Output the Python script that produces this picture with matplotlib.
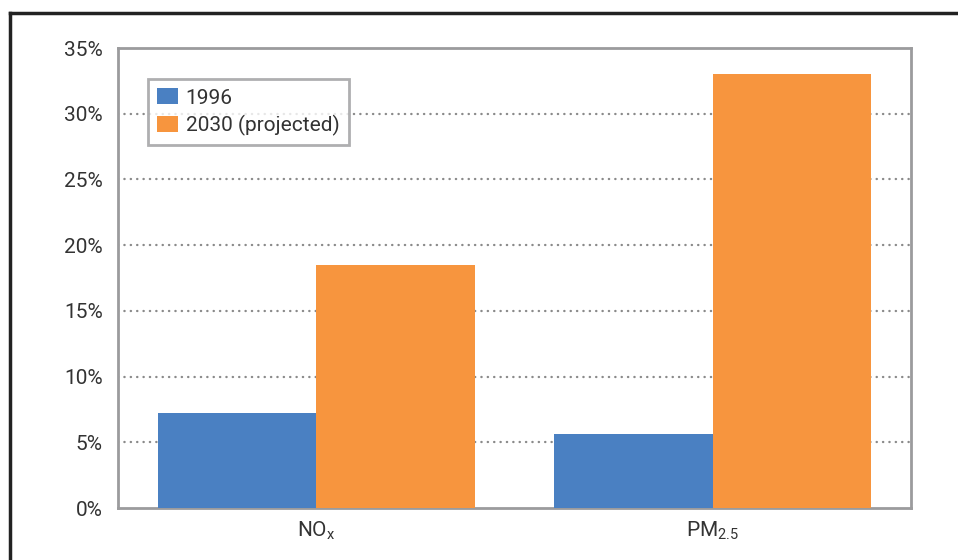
import matplotlib
matplotlib.use('Agg')
import matplotlib.pyplot as plt
from matplotlib.lines import Line2D
import numpy as np

plt.rcParams['font.family'] = ['Roboto', 'DejaVu Sans']
plt.rcParams['mathtext.fontset'] = 'custom'
plt.rcParams['mathtext.rm'] = 'Roboto'

# Data
categories = [r'NO$_{\mathrm{x}}$', r'PM$_{\mathrm{2.5}}$']
values_1996 = [7.2, 5.6]
values_2030 = [18.5, 33.0]
y_ticks = [0, 5, 10, 15, 20, 25, 30, 35]
y_labels = ['0%', '5%', '10%', '15%', '20%', '25%', '30%', '35%']

blue = '#4a80c2'
orange = '#f7953e'
spine_col = '#9b9b9d'

fig = plt.figure(figsize=(9.58, 5.6), dpi=100)
ax = fig.add_axes([118 / 958, 1 - 508 / 560, (911 - 118) / 958, (508 - 48) / 560])

x = np.arange(len(categories))
w = 0.4
ax.bar(x - w / 2, values_1996, width=w, color=blue, label='1996', zorder=3)
ax.bar(x + w / 2, values_2030, width=w, color=orange, label='2030 (projected)', zorder=3)

ax.set_xlim(-0.5, 1.5)
ax.set_ylim(0, 35)
ax.set_yticks(y_ticks)
ax.set_yticklabels(y_labels)
ax.set_xticks(x)
ax.set_xticklabels(categories)
ax.tick_params(axis='both', length=0, labelsize=15, colors='#333333')
ax.tick_params(axis='y', pad=11)
ax.tick_params(axis='x', pad=8)

# dotted gridlines
for yv in y_ticks[1:-1]:
    ax.axhline(yv, color='#8a8a8a', linestyle=(0, (0.1, 2.6)), linewidth=1.7,
               dash_capstyle='round', zorder=1)

for s in ax.spines.values():
    s.set_color(spine_col)
    s.set_linewidth(2)

leg = ax.legend(loc='upper left', bbox_to_anchor=(30 / 793, 1 - 31 / 460),
                fontsize=15, frameon=True, fancybox=False, handlelength=1.0,
                handleheight=0.8, handletextpad=0.35, borderpad=0.45,
                labelspacing=0.35, borderaxespad=0)
leg.get_frame().set_edgecolor(spine_col)
leg.get_frame().set_linewidth(2)
for t in leg.get_texts():
    t.set_color('#333333')

# outer frame (top and left edges visible)
fig.add_artist(Line2D([10 / 958, 1.0], [1 - 13 / 560, 1 - 13 / 560],
                      transform=fig.transFigure, color='#222222', linewidth=2.5))
fig.add_artist(Line2D([10 / 958, 10 / 958], [0, 1 - 13 / 560],
                      transform=fig.transFigure, color='#222222', linewidth=2.5))

fig.savefig('out.png', dpi=100)
